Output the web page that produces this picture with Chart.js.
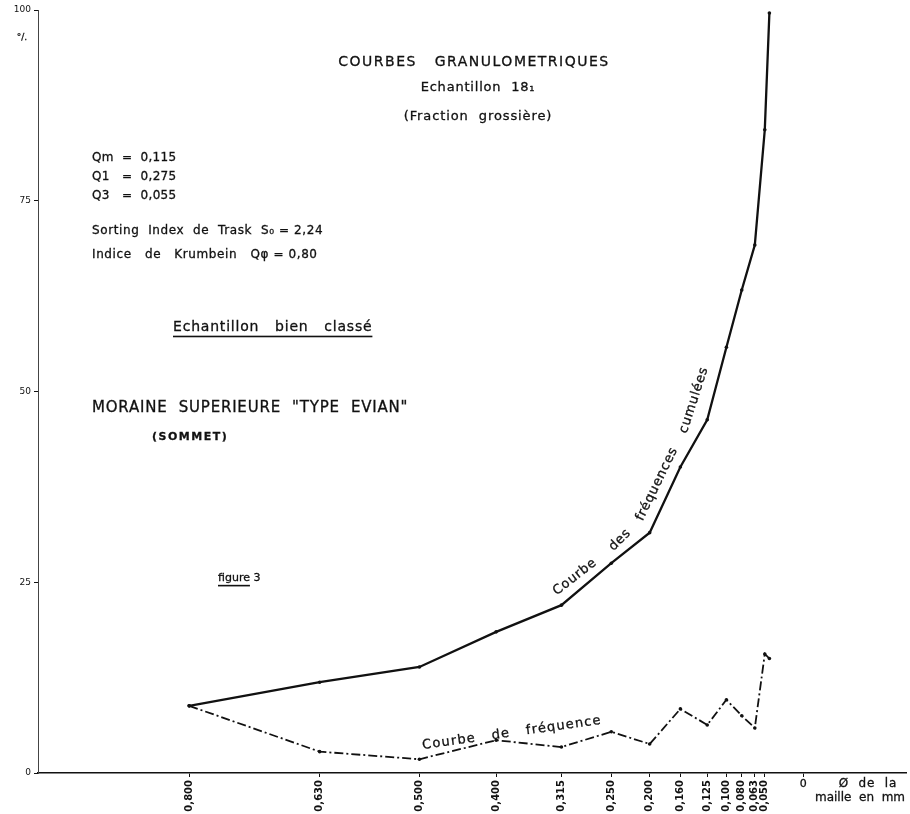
<!DOCTYPE html>
<html>
<head>
<meta charset="utf-8">
<script src="https://cdn.jsdelivr.net/npm/chart.js@4"></script>
<style>
  html, body { margin: 0; padding: 0; background: #fff; }
  #wrap { width: 910px; height: 814px; }
</style>
</head>
<body>
<div id="wrap"><canvas id="chart"></canvas></div>
<script>
// mesh sizes in mm (last point = pan, below 0.050)
const sizes = [0.800, 0.630, 0.500, 0.400, 0.315, 0.250, 0.200, 0.160, 0.125, 0.100, 0.080, 0.063, 0.050, 0.044];
const cumulative = [8.8, 11.9, 13.9, 18.5, 22.0, 27.5, 31.5, 40.1, 46.3, 55.8, 63.3, 69.2, 84.3, 99.6];
const frequency = [8.8, 2.8, 1.8, 4.3, 3.4, 5.4, 3.8, 8.4, 6.3, 9.6, 7.5, 5.9, 15.6, 15.0];
const xTicks = [0.800, 0.630, 0.500, 0.400, 0.315, 0.250, 0.200, 0.160, 0.125, 0.100, 0.080, 0.063, 0.050, 0];
const yTicks = [0, 25, 50, 75, 100];

const ink = '#111';
const font = '"DejaVu Sans", "Open Sans", sans-serif';

function pts(ys) {
    return sizes.map((s, i) => ({ x: s, y: ys[i] }));
}

// lettering-style text: regular face with a thin stroke to thicken it
function txt(ctx, s, x, y, size, opts) {
    opts = opts || {};
    ctx.save();
    ctx.font = (opts.bold ? 'bold ' : '') + size + 'px ' + font;
    ctx.letterSpacing = (opts.ls || 0) + 'px';
    ctx.textAlign = opts.align || 'left';
    ctx.textBaseline = 'middle';
    ctx.fillStyle = ink;
    ctx.strokeStyle = ink;
    ctx.lineWidth = 0.3;
    ctx.translate(x, y);
    if (opts.rot) ctx.rotate(opts.rot * Math.PI / 180);
    ctx.fillText(s, 0, 0);
    ctx.strokeText(s, 0, 0);
    if (opts.underline) {
        const w = ctx.measureText(opts.underline === true ? s : opts.underline).width;
        const x0 = ctx.textAlign === 'center' ? -ctx.measureText(s).width / 2 : 0;
        ctx.fillRect(x0, size * 0.62, w, 1.6);
    }
    ctx.restore();
}

const annotations = {
    id: 'annotations',
    afterDraw(chart) {
        const ctx = chart.ctx;
        const xs = chart.scales.x;
        const ys = chart.scales.y;

        txt(ctx, '°/.', 22, 38, 9, { align: 'center' });

        txt(ctx, 'COURBES   GRANULOMETRIQUES', 474, 62, 14, { align: 'center', ls: 1.5 });
        txt(ctx, 'Echantillon  18₁', 478, 88, 13, { align: 'center', ls: 0.8 });
        txt(ctx, '(Fraction  grossière)', 478, 117, 13, { align: 'center', ls: 0.9 });

        txt(ctx, 'Qm  =  0,115', 92, 158, 12, { ls: 0.3 });
        txt(ctx, 'Q1   =  0,275', 92, 177, 12, { ls: 0.3 });
        txt(ctx, 'Q3   =  0,055', 92, 196, 12, { ls: 0.3 });
        txt(ctx, 'Sorting  Index  de  Trask  S₀ = 2,24', 92, 231, 12, { ls: 0.6 });
        txt(ctx, 'Indice   de   Krumbein   Qφ = 0,80', 92, 255, 12, { ls: 0.6 });

        txt(ctx, 'Echantillon   bien   classé', 173, 327, 14, { underline: true, ls: 0.8 });

        txt(ctx, 'MORAINE  SUPERIEURE  "TYPE  EVIAN"', 92, 408, 15, { ls: 0.8 });
        txt(ctx, '(SOMMET)', 152, 437, 11, { bold: true, ls: 1.5 });
        txt(ctx, 'figure 3', 218, 578, 11, { underline: 'figure' });

        // curve labels
        txt(ctx, 'Courbe', 575, 577, 13, { align: 'center', rot: -38, ls: 0.8 });
        txt(ctx, 'des', 620, 540, 13, { align: 'center', rot: -45, ls: 0.8 });
        txt(ctx, 'fréquences', 657, 484, 13, { align: 'center', rot: -64, ls: 0.8 });
        txt(ctx, 'cumulées', 694, 400, 13, { align: 'center', rot: -72, ls: 0.8 });
        txt(ctx, 'Courbe   de   fréquence', 512, 733, 13, { align: 'center', rot: -8, ls: 1.2 });

        // x axis end labels
        const x0 = xs.getPixelForValue(0);
        txt(ctx, '0', x0, ys.bottom + 11, 11, { align: 'center' });
        txt(ctx, 'Ø  de  la', 868, ys.bottom + 11, 12, { align: 'center', ls: 0.9 });
        txt(ctx, 'maille  en  mm', 860, ys.bottom + 25, 12, { align: 'center' });
    }
};

new Chart(document.getElementById('chart'), {
    type: 'line',
    data: {
        datasets: [{
            label: 'Courbe des fréquences cumulées',
            data: pts(cumulative),
            borderColor: ink,
            borderWidth: 2.3,
            pointRadius: 1.8,
            pointBackgroundColor: ink,
            pointBorderWidth: 0,
            tension: 0
        }, {
            label: 'Courbe de fréquence',
            data: pts(frequency),
            borderColor: ink,
            borderWidth: 1.8,
            borderDash: [9, 3, 2, 3],
            pointRadius: 1.8,
            pointBackgroundColor: ink,
            pointBorderWidth: 0,
            tension: 0
        }]
    },
    options: {
        responsive: true,
        maintainAspectRatio: false,
        animation: false,
        layout: { padding: { top: 10, right: 0, left: 0, bottom: 0 } },
        plugins: {
            legend: { display: false },
            tooltip: { enabled: false }
        },
        scales: {
            x: {
                type: 'linear',
                reverse: true,
                min: -0.134,
                max: 0.997,
                afterBuildTicks: (scale) => {
                    scale.ticks = xTicks.map(v => ({ value: v }));
                },
                afterFit: (scale) => { scale.height = 41; },
                grid: { display: true, drawOnChartArea: false, drawTicks: true, tickLength: 4, color: ink },
                border: { display: true, color: ink, width: 1.6 },
                ticks: {
                    autoSkip: false,
                    minRotation: 90,
                    maxRotation: 90,
                    padding: 3,
                    color: ink,
                    font: { family: font, size: 10, weight: 'bold' },
                    callback: (v) => v === 0 ? '' : v.toFixed(3).replace('.', ',')
                }
            },
            y: {
                min: 0,
                max: 100,
                afterBuildTicks: (scale) => {
                    scale.ticks = yTicks.map(v => ({ value: v }));
                },
                afterFit: (scale) => { scale.width = 38; },
                grid: { display: true, drawOnChartArea: false, drawTicks: true, tickLength: 4, color: ink },
                border: { display: true, color: '#444', width: 1, dash: [3, 2] },
                ticks: {
                    padding: 3,
                    color: ink,
                    font: { family: font, size: 9 }
                }
            }
        }
    },
    plugins: [annotations]
});
</script>
</body>
</html>
